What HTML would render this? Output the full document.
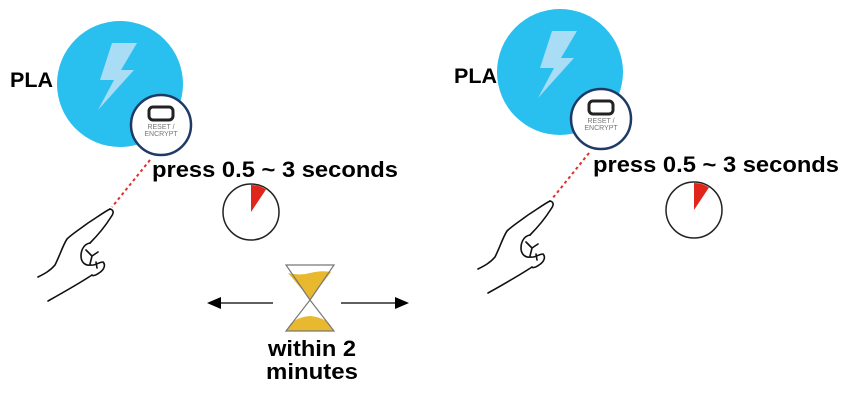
<!DOCTYPE html>
<html><head><meta charset="utf-8"><style>
html,body{margin:0;padding:0;background:#fff;}
svg{display:block;}
text{font-family:"Liberation Sans",Arial,sans-serif;font-weight:bold;fill:#000;}
</style></head><body>
<svg width="844" height="402" viewBox="0 0 844 402" xmlns="http://www.w3.org/2000/svg">
<defs>
<g id="hand" fill="none" stroke="#111" stroke-width="1.6" stroke-linecap="round" stroke-linejoin="round">
  <path d="M110,209 C104,212 96,218 88,223 C80,229 72,234 67,239 C63,245 60,255 55,265 C50,271 44,274 38,277"/>
  <path d="M110,209 C114,210 114,213 111,217 C106,225 98,235 90,243"/>
  <path d="M90,243 C84,244 81,250 81,256 C81,262 85,266 91,265 C95,266 99,262 103,262 C106,265 104,270 99,273 C95,276 92,276 92,275"/>
  <path d="M86,250 L92,256 L98,252 M92,256 L90,264 M96,262 L97,268"/>
  <path d="M92,275 C80,283 64,292 48,301"/>
</g>
<g id="btn">
  <circle r="30" fill="#fff" stroke="#1f3a66" stroke-width="2.5"/>
  <rect x="-12" y="-18" width="24" height="13" rx="4" fill="none" stroke="#222" stroke-width="3"/>
  <text x="0" y="4" text-anchor="middle" style="font-size:7px;font-weight:normal;fill:#777">RESET /</text>
  <text x="0" y="11" text-anchor="middle" style="font-size:7px;font-weight:normal;fill:#777">ENCRYPT</text>
</g>
<g id="bolt">
  <path d="M-8,-37 L17,-37 L1,-10 L14,-10 L-22,30 L-6,0 L-20,0 Z" fill="#a9dcf5"/>
</g>
<g id="timer">
  <circle r="28" fill="#fff" stroke="#222" stroke-width="1.5"/>
  <path d="M0,0 L0,-27 A27,27 0 0,1 15,-22.5 Z" fill="#e0261b"/>
</g>
</defs>

<circle cx="120" cy="84" r="63" fill="#29c0ef"/>
<use href="#bolt" transform="translate(120,80)"/>
<use href="#btn" transform="translate(161,125)"/>
<text x="10" y="87" style="font-size:21px" textLength="43" lengthAdjust="spacingAndGlyphs">PLA</text>
<line x1="150" y1="160" x2="112" y2="207" stroke="#e0302a" stroke-width="2" stroke-dasharray="3,3"/>
<use href="#hand"/>
<text x="152" y="177" style="font-size:22px" textLength="246" lengthAdjust="spacingAndGlyphs">press 0.5 ~ 3 seconds</text>
<use href="#timer" transform="translate(251,212)"/>

<circle cx="560" cy="72" r="63" fill="#29c0ef"/>
<use href="#bolt" transform="translate(560,68)"/>
<use href="#btn" transform="translate(601,119)"/>
<text x="454" y="83" style="font-size:21px" textLength="43" lengthAdjust="spacingAndGlyphs">PLA</text>
<line x1="589" y1="153" x2="552" y2="199" stroke="#e0302a" stroke-width="2" stroke-dasharray="3,3"/>
<use href="#hand" transform="translate(440,-8)"/>
<text x="593" y="172" style="font-size:22px" textLength="246" lengthAdjust="spacingAndGlyphs">press 0.5 ~ 3 seconds</text>
<use href="#timer" transform="translate(694,210)"/>

<path d="M288,273 Q300,276 310,273 Q322,270 331,272 L310,299 Z" fill="#e8b92e"/>
<path d="M287,331 Q290,318 310,316 Q330,318 333,331 Z" fill="#e8b92e"/>
<path d="M286,265 L334,265 L310,300 L334,331 L286,331 L310,300 Z" fill="none" stroke="#777" stroke-width="1.2"/>

<line x1="273" y1="303" x2="220" y2="303" stroke="#000" stroke-width="1.3"/>
<path d="M207,303 L221,297 L221,309 Z" fill="#000"/>
<line x1="341" y1="303" x2="396" y2="303" stroke="#000" stroke-width="1.3"/>
<path d="M409,303 L395,297 L395,309 Z" fill="#000"/>

<text x="268" y="356" style="font-size:22px" textLength="88" lengthAdjust="spacingAndGlyphs">within 2</text>
<text x="266" y="379" style="font-size:22px" textLength="92" lengthAdjust="spacingAndGlyphs">minutes</text>
</svg>
</body></html>
